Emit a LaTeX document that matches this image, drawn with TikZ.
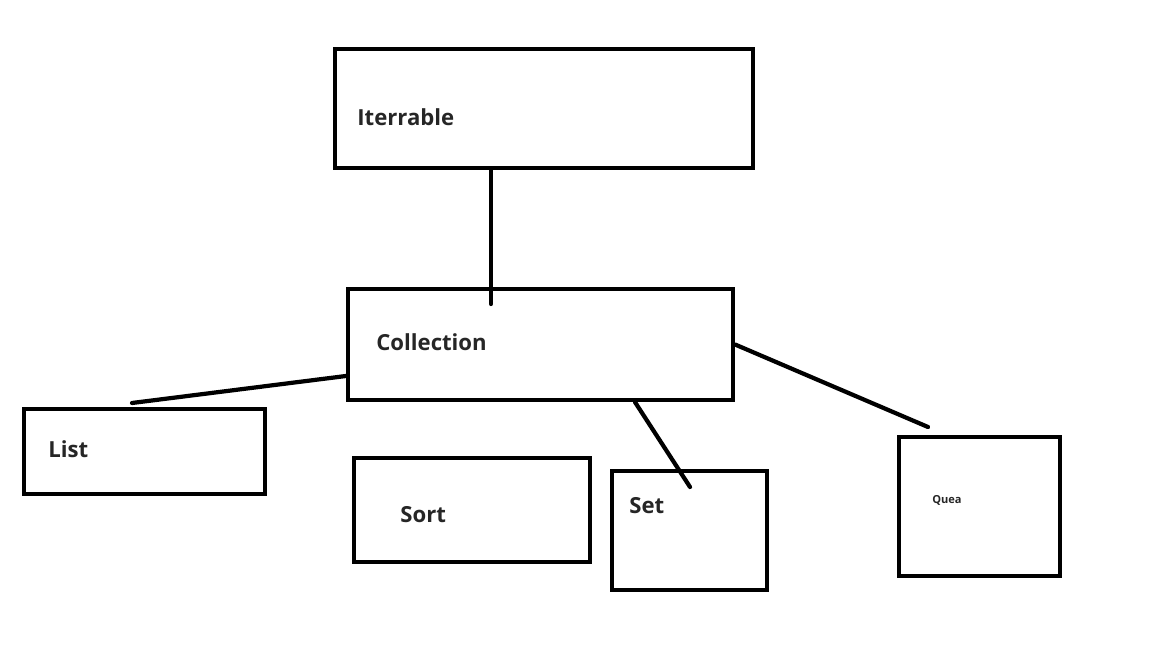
\documentclass[tikz,border=0pt]{standalone}
\usepackage{fontspec}
\setmainfont{Open Sans}
\usepackage{xcolor}
\usepackage{tikz}
\usetikzlibrary{positioning, calc}
\definecolor{inkblack}{RGB}{0, 0, 0}
\definecolor{inktext}{RGB}{38, 38, 38}
\tikzset{
    box/.style   ={draw=inkblack, line width=2.4pt, fill=white, inner sep=0pt},
    link/.style  ={draw=inkblack, line width=2.4pt, line cap=round},
    lbl/.style   ={anchor=west, inner sep=0pt, text=inktext,
                   font=\fontsize{12.6}{15}\selectfont\bfseries},
    tinylbl/.style={lbl, font=\fontsize{6.3}{8}\selectfont\bfseries}
}

\begin{document}
\begin{tikzpicture}[x=0.02cm, y=-0.02cm]
  \useasboundingbox (0,0) rectangle (1152,648);

  \node[box, minimum width=8.36cm, minimum height=2.38cm] (iter) at (544,108.5) {};
  \node[box, minimum width=7.70cm, minimum height=2.22cm] (coll) at (540.5,344.5) {};
  \node[box, minimum width=4.82cm, minimum height=1.70cm] (list) at (144.5,451.5) {};
  \node[box, minimum width=4.72cm, minimum height=2.08cm] (sort) at (472,510) {};
  \node[box, minimum width=3.10cm, minimum height=2.38cm] (set)  at (689.5,530.5) {};
  \node[box, minimum width=3.22cm, minimum height=2.78cm] (quea) at (979.5,506.5) {};

  \node[lbl] (iterlbl) at (357,117) {Iterrable};
  \node[lbl] (colllbl) at (376,342) {Collection};
  \node[lbl] (listlbl) at (48,449)  {List};
  \node[lbl] (sortlbl) at (400,515) {Sort};
  \node[lbl] (setlbl)  at (629,506) {Set};
  \node[tinylbl] (quealbl) at (932,500) {Quea};

  \coordinate (colltop)  at (491,304);
  \coordinate (listtop)  at (132,403);
  \coordinate (settop)   at (690,487);
  \coordinate (queatop)  at (928,427);

  \draw[link] (iter.south -| colltop) -- (colltop);
  \draw[link] ($(coll.west)+(0,31.5)$) -- (listtop);
  \draw[link] ($(coll.south)+(94.5,0)$) -- (settop);
  \draw[link] (coll.east) -- (queatop);
\end{tikzpicture}
\end{document}
